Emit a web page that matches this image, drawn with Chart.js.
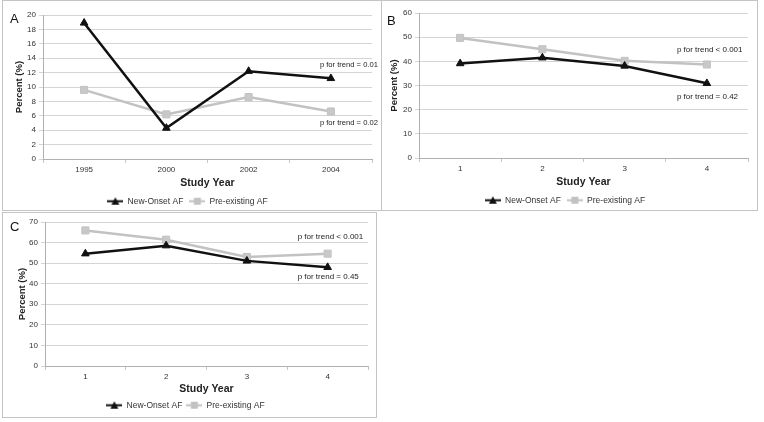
<!DOCTYPE html>
<html>
<head>
<meta charset="utf-8">
<script src="https://cdn.jsdelivr.net/npm/chart.js@4.4.0/dist/chart.umd.min.js"></script>
<style>
  body { margin: 0; background: #fff; width: 764px; height: 422px; position: relative; overflow: hidden; font-family: "Liberation Sans", Arial, sans-serif; }
  .panel { position: absolute; border: 1px solid #c4c4c4; box-sizing: border-box; }
  .panel canvas { position: absolute; left: 0; top: 0; }
  .tag { position: absolute; font-size: 13px; line-height: 13px; color: #111; }
</style>
</head>
<body>
<div class="panel" style="left:2px;top:0;width:380px;height:211px">
  <canvas id="chartA" width="378" height="209"></canvas>
  <div class="tag" style="left:7px;top:11px">A</div>
</div>
<div class="panel" style="left:381px;top:0;width:377px;height:211px">
  <canvas id="chartB" width="375" height="209"></canvas>
  <div class="tag" style="left:5px;top:13px">B</div>
</div>
<div class="panel" style="left:2px;top:212px;width:375px;height:206px">
  <canvas id="chartC" width="373" height="204"></canvas>
  <div class="tag" style="left:7px;top:7px">C</div>
</div>

<script>
// ========== DATA ==========
const yearsA = ["1995", "2000", "2002", "2004"];
const studyYears = ["1", "2", "3", "4"];

const newOnsetA = [18.9, 4.3, 12.2, 11.2];
const preExistingA = [9.6, 6.2, 8.6, 6.6];

const newOnsetB = [39.1, 41.5, 38.1, 30.9];
const preExistingB = [49.7, 45.0, 40.2, 38.7];

const newOnsetC = [54.6, 58.5, 51.1, 48.0];
const preExistingC = [65.9, 61.4, 53.0, 54.6];

const trendNotesA = [["p for trend = 0.01", 13.0], ["p for trend = 0.02", 5.0]];
const trendNotesB = [["p for trend < 0.001", 44.7], ["p for trend = 0.42", 25.4]];
const trendNotesC = [["p for trend < 0.001", 63.0], ["p for trend = 0.45", 43.3]];

// ========== HELPERS ==========
const FONT = '"Liberation Sans", Arial, sans-serif';
const BLACK = "#111111";
const GREY = "#c2c2c2";

function legendIcon(color, shape) {
  const c = document.createElement("canvas");
  c.width = 16;
  c.height = 9;
  const g = c.getContext("2d");
  g.strokeStyle = color;
  g.fillStyle = color;
  g.lineWidth = 2;
  g.beginPath();
  g.moveTo(0, 4.5);
  g.lineTo(16, 4.5);
  g.stroke();
  if (shape === "triangle") {
    g.beginPath();
    g.moveTo(8, 0.5);
    g.lineTo(12, 8);
    g.lineTo(4, 8);
    g.closePath();
    g.fill();
  } else {
    g.fillRect(4.5, 1, 7, 7);
  }
  return c;
}

const trendNotes = {
  id: "trendNotes",
  afterDatasetsDraw(chart, args, opts) {
    const { ctx, scales } = chart;
    const x0 = scales.x.getPixelForValue(scales.x.max) + opts.dx;
    ctx.save();
    ctx.font = opts.size + "px " + FONT;
    ctx.fillStyle = "#222";
    ctx.textBaseline = "middle";
    opts.notes.forEach(([text, v]) => ctx.fillText(text, x0, scales.y.getPixelForValue(v)));
    ctx.restore();
  },
};

function makeChart(id, cfg) {
  return new Chart(document.getElementById(id), {
    type: "line",
    data: {
      labels: cfg.labels,
      datasets: [
        {
          label: "New-Onset AF",
          data: cfg.newOnset,
          borderColor: BLACK,
          backgroundColor: BLACK,
          borderWidth: 2.5,
          pointStyle: "triangle",
          pointRadius: 4.4,
          pointBorderWidth: 1,
          tension: 0,
        },
        {
          label: "Pre-existing AF",
          data: cfg.preExisting,
          borderColor: GREY,
          backgroundColor: "#c8c8c8",
          borderWidth: 2.5,
          pointStyle: "rect",
          pointRadius: 5,
          pointBorderWidth: 1,
          tension: 0,
        },
      ],
    },
    options: {
      responsive: false,
      animation: false,
      layout: { padding: { left: 0, right: cfg.padRight, top: cfg.padTop, bottom: 0 } },
      scales: {
        x: {
          offset: true,
          grid: { offset: true, drawOnChartArea: false, tickLength: 4, color: "#c8c8c8" },
          border: { color: "#b0b0b0" },
          ticks: { font: { size: 8, family: FONT }, color: "#333", padding: 2 },
          title: { display: true, text: "Study Year", font: { size: 10.5, weight: "bold", family: FONT }, color: "#222", padding: { top: 2, bottom: 2 } },
          afterFit: (s) => { s.height = cfg.xHeight; },
        },
        y: {
          min: 0,
          max: cfg.yMax,
          ticks: { stepSize: cfg.yStep, font: { size: 8, family: FONT }, color: "#333", padding: 3 },
          grid: { color: "#d4d4d4", tickLength: 4 },
          border: { color: "#b0b0b0" },
          title: { display: true, text: "Percent (%)", font: { size: 9.5, weight: "bold", family: FONT }, color: "#222", padding: { top: cfg.yTitlePad, bottom: 0 } },
          afterFit: (s) => { s.width = cfg.yWidth; },
        },
      },
      plugins: {
        tooltip: { enabled: false },
        legend: {
          position: "bottom",
          maxHeight: cfg.legendHeight,
          labels: {
            usePointStyle: true,
            pointStyleWidth: 16,
            padding: cfg.legendPad,
            font: { size: 8.5, family: FONT },
            color: "#333",
            generateLabels: (chart) =>
              chart.data.datasets.map((ds, i) => ({
                text: ds.label,
                datasetIndex: i,
                fontColor: "#333",
                lineWidth: 0,
                pointStyle: legendIcon(ds.borderColor, ds.pointStyle),
              })),
          },
        },
        trendNotes: { notes: cfg.notes, dx: cfg.noteDx, size: cfg.noteSize },
      },
    },
    plugins: [trendNotes],
  });
}

// ========== PANELS ==========
makeChart("chartA", {
  labels: yearsA, newOnset: newOnsetA, preExisting: preExistingA,
  yMax: 20, yStep: 2, notes: trendNotesA, noteDx: -11, noteSize: 7.6,
  padRight: 9, padTop: 14, yWidth: 40, yTitlePad: 11, xHeight: 32, legendHeight: 19, legendPad: 6,
});

makeChart("chartB", {
  labels: studyYears, newOnset: newOnsetB, preExisting: preExistingB,
  yMax: 60, yStep: 10, notes: trendNotesB, noteDx: -30, noteSize: 8,
  padRight: 9, padTop: 12, yWidth: 37, yTitlePad: 7, xHeight: 32, legendHeight: 20, legendPad: 6,
});

makeChart("chartC", {
  labels: studyYears, newOnset: newOnsetC, preExisting: preExistingC,
  yMax: 70, yStep: 10, notes: trendNotesC, noteDx: -30, noteSize: 8,
  padRight: 8, padTop: 9, yWidth: 42, yTitlePad: 14, xHeight: 31, legendHeight: 20, legendPad: 4,
});
</script>
</body>
</html>
